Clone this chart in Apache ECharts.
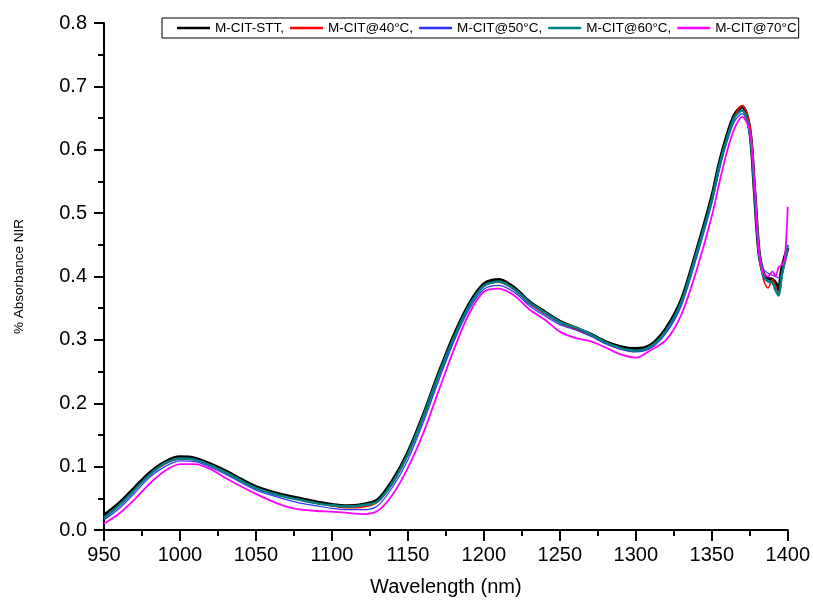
<!DOCTYPE html>
<html>
<head>
<meta charset="utf-8">
<script src="https://cdn.jsdelivr.net/npm/echarts@6/dist/echarts.min.js"></script>
<style>html,body{margin:0;padding:0;background:#fff}#c{width:813px;height:603px}</style>
</head>
<body>
<div id="c"></div>
<script>
const wavelength = [950,960,970,980,990,1000,1010,1020,1030,1040,1050,1060,1070,1080,1090,1100,1110,1120,1130,1140,1150,1160,1170,1180,1190,1200,1210,1220,1230,1240,1250,1260,1270,1280,1290,1300,1310,1320,1330,1340,1350,1355,1360,1365,1370,1375,1378,1381,1384,1387,1390,1392,1394,1396,1398,1400];

const stt = [0.023,0.042,0.066,0.090,0.107,0.115,0.113,0.104,0.093,0.080,0.068,0.060,0.054,0.049,0.044,0.040,0.038,0.040,0.047,0.078,0.122,0.180,0.245,0.305,0.355,0.388,0.395,0.382,0.360,0.344,0.329,0.319,0.309,0.297,0.289,0.286,0.292,0.318,0.363,0.440,0.525,0.579,0.622,0.655,0.668,0.631,0.540,0.440,0.405,0.397,0.395,0.390,0.380,0.410,0.430,0.445];

const c40 = [0.020,0.039,0.063,0.087,0.104,0.112,0.111,0.102,0.091,0.078,0.066,0.058,0.052,0.047,0.042,0.038,0.035,0.036,0.044,0.074,0.119,0.177,0.242,0.302,0.352,0.385,0.391,0.379,0.357,0.341,0.327,0.317,0.307,0.295,0.286,0.282,0.289,0.314,0.358,0.434,0.520,0.574,0.618,0.653,0.670,0.640,0.555,0.445,0.395,0.382,0.395,0.385,0.374,0.400,0.420,0.440];

const c50 = [0.016,0.034,0.058,0.083,0.100,0.109,0.108,0.099,0.088,0.075,0.063,0.055,0.048,0.042,0.038,0.034,0.032,0.032,0.038,0.068,0.111,0.169,0.234,0.296,0.347,0.380,0.386,0.375,0.354,0.338,0.324,0.316,0.306,0.294,0.285,0.281,0.287,0.311,0.354,0.430,0.515,0.568,0.612,0.645,0.657,0.625,0.540,0.445,0.412,0.405,0.402,0.400,0.398,0.405,0.420,0.440];

const c60 = [0.019,0.039,0.063,0.087,0.105,0.113,0.111,0.102,0.091,0.078,0.066,0.058,0.052,0.047,0.042,0.039,0.037,0.039,0.045,0.075,0.120,0.178,0.243,0.302,0.352,0.385,0.392,0.380,0.359,0.343,0.328,0.320,0.309,0.296,0.287,0.283,0.290,0.315,0.360,0.437,0.521,0.575,0.618,0.651,0.662,0.627,0.538,0.440,0.400,0.392,0.390,0.378,0.370,0.400,0.425,0.450];

const c70 = [0.010,0.026,0.048,0.073,0.093,0.104,0.104,0.096,0.082,0.069,0.057,0.046,0.037,0.032,0.030,0.029,0.027,0.025,0.030,0.056,0.098,0.152,0.218,0.283,0.340,0.376,0.381,0.370,0.348,0.332,0.313,0.303,0.298,0.288,0.277,0.272,0.284,0.300,0.340,0.410,0.495,0.548,0.597,0.634,0.652,0.630,0.550,0.440,0.405,0.400,0.408,0.400,0.415,0.418,0.428,0.510];

const seriesNames = ['M-CIT-STT,','M-CIT@40°C,','M-CIT@50°C,','M-CIT@60°C,','M-CIT@70°C'];
const seriesData = [stt,c40,c50,c60,c70];
const colors = ['#000000','#ff0000','#3333ff','#008080','#ff00ff'];
const widths = [3.5,1.5,1.2,2.5,1.8];

const font = 'Liberation Sans, Arial, sans-serif';

const chart = echarts.init(document.getElementById('c'));
chart.setOption({
  animation: false,
  backgroundColor: '#ffffff',
  grid: {left: 104, right: 25, top: 23, bottom: 73},
  legend: {
    left: 162, top: 18,
    padding: [3, 2, 3, 15],
    itemGap: 6,
    icon: 'rect',
    itemWidth: 33, itemHeight: 2.5,
    borderColor: '#000', borderWidth: 1,
    textStyle: {fontFamily: font, fontSize: 13.5, color: '#000'},
    data: seriesNames
  },
  xAxis: {
    type: 'value', min: 950, max: 1400, interval: 50,
    name: 'Wavelength (nm)', nameLocation: 'middle', nameGap: 47,
    nameTextStyle: {fontFamily: font, fontSize: 20, color: '#000'},
    axisLine: {onZero: false, lineStyle: {color: '#000', width: 2}},
    axisTick: {show: true, inside: false, length: 11, lineStyle: {color: '#000', width: 2}},
    minorTick: {show: true, splitNumber: 2, length: 6, lineStyle: {color: '#000', width: 2}},
    splitLine: {show: false},
    axisLabel: {fontFamily: font, fontSize: 20, color: '#000', margin: 15,
      formatter: v => String(v)}
  },
  yAxis: {
    type: 'value', min: 0, max: 0.8, interval: 0.1,
    name: '% Absorbance NIR', nameLocation: 'middle', nameGap: 78,
    nameTextStyle: {fontFamily: font, fontSize: 13.5, color: '#000'},
    axisLine: {show: true, onZero: false, lineStyle: {color: '#000', width: 2}},
    axisTick: {show: true, inside: false, length: 10, lineStyle: {color: '#000', width: 2}},
    minorTick: {show: true, splitNumber: 2, length: 6, lineStyle: {color: '#000', width: 2}},
    splitLine: {show: false},
    axisLabel: {fontFamily: font, fontSize: 20, color: '#000', margin: 17,
      formatter: v => v.toFixed(1)}
  },
  series: seriesNames.map((n, i) => ({
    name: n, type: 'line', smooth: 0.3,
    symbol: 'none', showSymbol: false,
    color: colors[i],
    lineStyle: {color: colors[i], width: widths[i]},
    data: wavelength.map((x, j) => [x, seriesData[i][j]])
  }))
});
</script>
</body>
</html>
